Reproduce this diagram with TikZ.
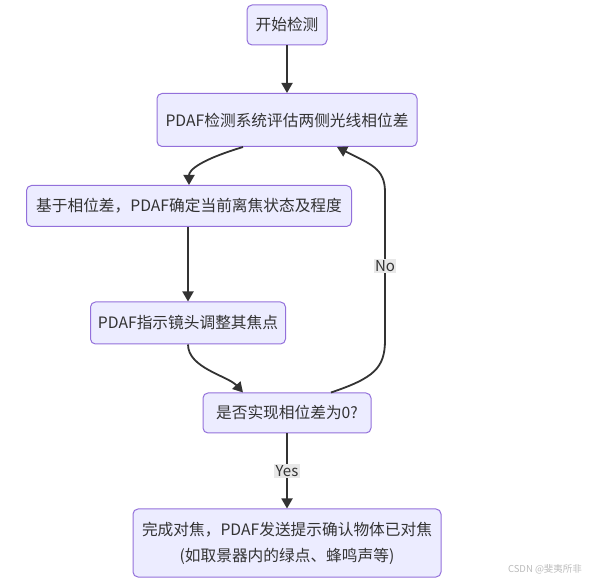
\documentclass[tikz,border=0pt]{standalone}
\usepackage{fontspec}
\setmainfont{Noto Sans CJK SC}
\usetikzlibrary{arrows.meta}
\definecolor{boxfill}{HTML}{ECECFF}
\definecolor{boxline}{HTML}{9370DB}
\definecolor{edgecol}{HTML}{333333}
\definecolor{labelbg}{HTML}{E8E8E8}
\definecolor{marktext}{HTML}{BBBBBB}
\begin{document}
\begin{tikzpicture}[x=1pt, y=-1pt,
    flowbox/.style={draw=boxline, fill=boxfill, line width=1pt, rounded corners=5pt,
        inner sep=0pt, font=\fontsize{15.7}{18}\selectfont, text=edgecol},
    arrow/.style={draw=edgecol, line width=1.8pt, -{Triangle[length=10pt,width=11pt]}},
    edgelabel/.style={fill=labelbg, inner sep=1.5pt, font=\fontsize{15}{17}\selectfont, text=edgecol}]
        \useasboundingbox (0,0) rectangle (590,580);

        % Boxes
        \node[flowbox, minimum width=80pt, minimum height=40pt] (start) at (287,25) {开始检测};
        \node[flowbox, minimum width=260pt, minimum height=53pt] (pdaf) at (287,120) {PDAF检测系统评估两侧光线相位差};
        \node[flowbox, minimum width=325pt, minimum height=41pt] (detect) at (189,206) {基于相位差，PDAF确定当前离焦状态及程度};
        \node[flowbox, minimum width=195pt, minimum height=42pt] (adjust) at (188,323) {PDAF指示镜头调整其焦点};
        \node[flowbox, minimum width=168pt, minimum height=40pt] (decide) at (287,413) {是否实现相位差为0?};
        \node[flowbox, minimum width=308pt, minimum height=68pt, align=center,
            font=\fontsize{15.7}{26}\selectfont] (done) at (287,543)
            {完成对焦，PDAF发送提示确认物体已对焦\\(如取景器内的绿点、蜂鸣声等)};

        % Arrows
        \draw[arrow] (start) -- (pdaf);
        \draw[arrow] ([xshift=-44pt]pdaf.south) .. controls (200,160) and (189,170) .. (detect.north);
        \draw[arrow] (detect.south -| adjust.south) -- (adjust.north);
        \draw[arrow] (adjust.south) .. controls (188,368) and (228,376) .. ([xshift=-44pt]decide.north);
        \draw[arrow] ([xshift=44pt]decide.north) .. controls (374,378) and (385,368) .. (385,340)
            -- node[edgelabel] {No} (385,192)
            .. controls (385,168) and (370,164) .. ([xshift=50pt]pdaf.south);
        \draw[arrow] (decide) -- node[edgelabel] {Yes} (done);

        % Watermark
        \node[text=marktext, font=\fontsize{9.5}{11}\selectfont] (mark) at (545,569) {CSDN @斐夷所非};
    \end{tikzpicture}
\end{document}
